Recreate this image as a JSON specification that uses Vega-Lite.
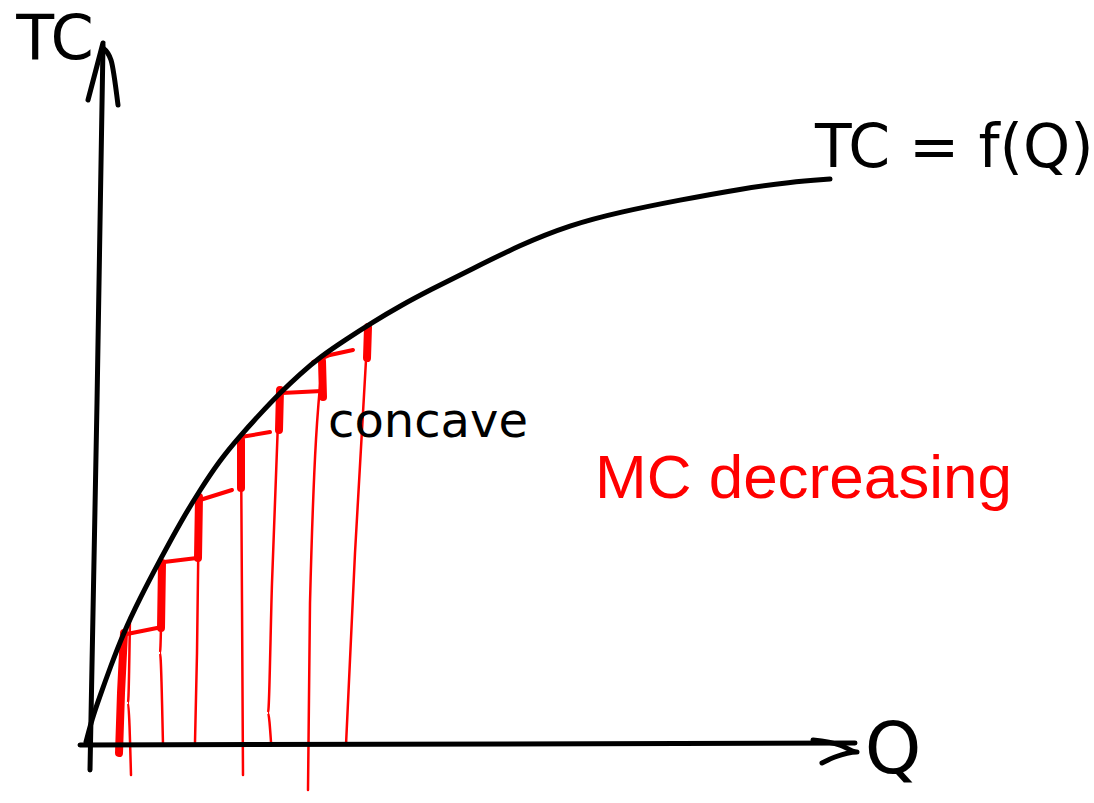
{
  "$schema": "https://vega.github.io/schema/vega-lite/v6.json",
  "width": 1094,
  "height": 803,
  "autosize": {"type": "fit", "contains": "padding"},
  "padding": 0,
  "background": "white",
  "config": {"view": {"stroke": null}},
  "datasets": {
    "strokes": [
      {"kind": "axis", "id": "yshaft", "o": 1, "q": 90, "tc": 33},
      {"kind": "axis", "id": "yshaft", "o": 2, "q": 97, "tc": 400},
      {"kind": "axis", "id": "yshaft", "o": 3, "q": 103, "tc": 758},
      {"kind": "axis", "id": "yleft", "o": 1, "q": 88, "tc": 703},
      {"kind": "axis", "id": "yleft", "o": 2, "q": 103, "tc": 760},
      {"kind": "axis", "id": "yright", "o": 1, "q": 103, "tc": 755},
      {"kind": "axis", "id": "yright", "o": 2, "q": 111, "tc": 743},
      {"kind": "axis", "id": "yright", "o": 3, "q": 118, "tc": 698},
      {"kind": "axis", "id": "xshaft", "o": 1, "q": 80, "tc": 58},
      {"kind": "axis", "id": "xshaft", "o": 2, "q": 855, "tc": 60},
      {"kind": "axis", "id": "xhead", "o": 1, "q": 813, "tc": 63},
      {"kind": "axis", "id": "xhead", "o": 2, "q": 840, "tc": 58},
      {"kind": "axis", "id": "xhead", "o": 3, "q": 857, "tc": 51},
      {"kind": "axis", "id": "xhead", "o": 4, "q": 835, "tc": 46},
      {"kind": "axis", "id": "xhead", "o": 5, "q": 822, "tc": 40},

      {"kind": "curve", "id": "tc", "o": 1, "q": 86, "tc": 61},
      {"kind": "curve", "id": "tc", "o": 2, "q": 92, "tc": 84},
      {"kind": "curve", "id": "tc", "o": 3, "q": 100, "tc": 107},
      {"kind": "curve", "id": "tc", "o": 4, "q": 110, "tc": 135},
      {"kind": "curve", "id": "tc", "o": 5, "q": 123, "tc": 169},
      {"kind": "curve", "id": "tc", "o": 6, "q": 140, "tc": 205},
      {"kind": "curve", "id": "tc", "o": 7, "q": 160, "tc": 243},
      {"kind": "curve", "id": "tc", "o": 8, "q": 180, "tc": 280},
      {"kind": "curve", "id": "tc", "o": 9, "q": 200, "tc": 313},
      {"kind": "curve", "id": "tc", "o": 10, "q": 220, "tc": 343},
      {"kind": "curve", "id": "tc", "o": 11, "q": 240, "tc": 367},
      {"kind": "curve", "id": "tc", "o": 12, "q": 260, "tc": 389},
      {"kind": "curve", "id": "tc", "o": 13, "q": 280, "tc": 410},
      {"kind": "curve", "id": "tc", "o": 14, "q": 300, "tc": 429},
      {"kind": "curve", "id": "tc", "o": 15, "q": 320, "tc": 446},
      {"kind": "curve", "id": "tc", "o": 16, "q": 345, "tc": 463},
      {"kind": "curve", "id": "tc", "o": 17, "q": 373, "tc": 481},
      {"kind": "curve", "id": "tc", "o": 18, "q": 400, "tc": 497},
      {"kind": "curve", "id": "tc", "o": 19, "q": 430, "tc": 513},
      {"kind": "curve", "id": "tc", "o": 20, "q": 470, "tc": 533},
      {"kind": "curve", "id": "tc", "o": 21, "q": 520, "tc": 558},
      {"kind": "curve", "id": "tc", "o": 22, "q": 570, "tc": 578},
      {"kind": "curve", "id": "tc", "o": 23, "q": 620, "tc": 591},
      {"kind": "curve", "id": "tc", "o": 24, "q": 680, "tc": 603},
      {"kind": "curve", "id": "tc", "o": 25, "q": 740, "tc": 614},
      {"kind": "curve", "id": "tc", "o": 26, "q": 790, "tc": 621},
      {"kind": "curve", "id": "tc", "o": 27, "q": 830, "tc": 624},

      {"kind": "thin", "id": "v1b", "o": 1, "q": 131, "tc": 28},
      {"kind": "thin", "id": "v1b", "o": 2, "q": 128, "tc": 100},
      {"kind": "thin", "id": "v1b", "o": 3, "q": 130, "tc": 186},
      {"kind": "thin", "id": "v2", "o": 1, "q": 163, "tc": 58},
      {"kind": "thin", "id": "v2", "o": 2, "q": 160, "tc": 150},
      {"kind": "thin", "id": "v2", "o": 3, "q": 162, "tc": 236},
      {"kind": "thin", "id": "v3", "o": 1, "q": 195, "tc": 61},
      {"kind": "thin", "id": "v3", "o": 2, "q": 197, "tc": 150},
      {"kind": "thin", "id": "v3", "o": 3, "q": 199, "tc": 305},
      {"kind": "thin", "id": "v4", "o": 1, "q": 243, "tc": 28},
      {"kind": "thin", "id": "v4", "o": 2, "q": 242, "tc": 200},
      {"kind": "thin", "id": "v4", "o": 3, "q": 241, "tc": 363},
      {"kind": "thin", "id": "v5", "o": 1, "q": 271, "tc": 61},
      {"kind": "thin", "id": "v5", "o": 2, "q": 268, "tc": 90},
      {"kind": "thin", "id": "v5", "o": 3, "q": 272, "tc": 220},
      {"kind": "thin", "id": "v5", "o": 4, "q": 279, "tc": 408},
      {"kind": "thin", "id": "v6", "o": 1, "q": 308, "tc": 13},
      {"kind": "thin", "id": "v6", "o": 2, "q": 310, "tc": 200},
      {"kind": "thin", "id": "v6", "o": 3, "q": 322, "tc": 438},
      {"kind": "thin", "id": "v7", "o": 1, "q": 346, "tc": 58},
      {"kind": "thin", "id": "v7", "o": 2, "q": 355, "tc": 250},
      {"kind": "thin", "id": "v7", "o": 3, "q": 368, "tc": 478},

      {"kind": "thick", "id": "t1", "o": 1, "q": 119, "tc": 50},
      {"kind": "thick", "id": "t1", "o": 2, "q": 121, "tc": 110},
      {"kind": "thick", "id": "t1", "o": 3, "q": 124, "tc": 170},
      {"kind": "thick", "id": "t2", "o": 1, "q": 161, "tc": 175},
      {"kind": "thick", "id": "t2", "o": 2, "q": 162, "tc": 240},
      {"kind": "thick", "id": "t3", "o": 1, "q": 198, "tc": 245},
      {"kind": "thick", "id": "t3", "o": 2, "q": 199, "tc": 306},
      {"kind": "thick", "id": "t4", "o": 1, "q": 241, "tc": 315},
      {"kind": "thick", "id": "t4", "o": 2, "q": 241, "tc": 363},
      {"kind": "thick", "id": "t5", "o": 1, "q": 279, "tc": 373},
      {"kind": "thick", "id": "t5", "o": 2, "q": 280, "tc": 413},
      {"kind": "thick", "id": "t6", "o": 1, "q": 323, "tc": 406},
      {"kind": "thick", "id": "t6", "o": 2, "q": 322, "tc": 442},
      {"kind": "thick", "id": "t7", "o": 1, "q": 367, "tc": 445},
      {"kind": "thick", "id": "t7", "o": 2, "q": 368, "tc": 476},

      {"kind": "step", "id": "h1", "o": 1, "q": 127, "tc": 169},
      {"kind": "step", "id": "h1", "o": 2, "q": 162, "tc": 176},
      {"kind": "step", "id": "h2", "o": 1, "q": 164, "tc": 241},
      {"kind": "step", "id": "h2", "o": 2, "q": 197, "tc": 245},
      {"kind": "step", "id": "h3", "o": 1, "q": 200, "tc": 303},
      {"kind": "step", "id": "h3", "o": 2, "q": 232, "tc": 313},
      {"kind": "step", "id": "h4", "o": 1, "q": 241, "tc": 366},
      {"kind": "step", "id": "h4", "o": 2, "q": 270, "tc": 371},
      {"kind": "step", "id": "h5", "o": 1, "q": 282, "tc": 410},
      {"kind": "step", "id": "h5", "o": 2, "q": 322, "tc": 412},
      {"kind": "step", "id": "h6", "o": 1, "q": 313, "tc": 441},
      {"kind": "step", "id": "h6", "o": 2, "q": 330, "tc": 448},
      {"kind": "step", "id": "h6", "o": 3, "q": 353, "tc": 453}
    ],
    "labels": [
      {"kind": "ylab", "q": 55, "tc": 763, "label": "TC"},
      {"kind": "xlab", "q": 893, "tc": 52, "label": "Q"},
      {"kind": "func", "q": 815, "tc": 636, "label": "TC = f(Q)"},
      {"kind": "concave", "q": 328, "tc": 366, "label": "concave"},
      {"kind": "mc", "q": 595, "tc": 305, "label": "MC decreasing"}
    ]
  },
  "encoding": {
    "x": {"field": "q", "type": "quantitative", "scale": {"domain": [0, 1094], "nice": false, "zero": false}, "axis": null},
    "y": {"field": "tc", "type": "quantitative", "scale": {"domain": [0, 803], "nice": false, "zero": false}, "axis": null}
  },
  "layer": [
    {
      "data": {"name": "strokes"},
      "transform": [{"filter": "datum.kind === 'thin'"}],
      "mark": {"type": "line", "color": "#ff0000", "strokeWidth": 2.5, "interpolate": "monotone", "strokeCap": "round"},
      "encoding": {"detail": {"field": "id"}, "order": {"field": "o", "type": "quantitative"}}
    },
    {
      "data": {"name": "strokes"},
      "transform": [{"filter": "datum.kind === 'thick'"}],
      "mark": {"type": "line", "color": "#ff0000", "strokeWidth": 8, "strokeCap": "round"},
      "encoding": {"detail": {"field": "id"}, "order": {"field": "o", "type": "quantitative"}}
    },
    {
      "data": {"name": "strokes"},
      "transform": [{"filter": "datum.kind === 'step'"}],
      "mark": {"type": "line", "color": "#ff0000", "strokeWidth": 4, "strokeCap": "round"},
      "encoding": {"detail": {"field": "id"}, "order": {"field": "o", "type": "quantitative"}}
    },
    {
      "data": {"name": "strokes"},
      "transform": [{"filter": "datum.kind === 'axis'"}],
      "mark": {"type": "line", "color": "#000000", "strokeWidth": 5, "strokeCap": "round", "strokeJoin": "round", "interpolate": "monotone"},
      "encoding": {"detail": {"field": "id"}, "order": {"field": "o", "type": "quantitative"}}
    },
    {
      "data": {"name": "strokes"},
      "transform": [{"filter": "datum.kind === 'curve'"}],
      "mark": {"type": "line", "color": "#000000", "strokeWidth": 5, "strokeCap": "round", "interpolate": "basis"},
      "encoding": {"detail": {"field": "id"}, "order": {"field": "o", "type": "quantitative"}}
    },
    {
      "data": {"name": "labels"},
      "transform": [{"filter": "datum.kind === 'ylab'"}],
      "mark": {"type": "text", "fontSize": 62, "font": "DejaVu Sans", "align": "center", "baseline": "middle", "color": "#000000"},
      "encoding": {"text": {"field": "label"}}
    },
    {
      "data": {"name": "labels"},
      "transform": [{"filter": "datum.kind === 'xlab'"}],
      "mark": {"type": "text", "fontSize": 72, "font": "DejaVu Sans", "align": "center", "baseline": "middle", "color": "#000000"},
      "encoding": {"text": {"field": "label"}}
    },
    {
      "data": {"name": "labels"},
      "transform": [{"filter": "datum.kind === 'func'"}],
      "mark": {"type": "text", "fontSize": 60, "font": "DejaVu Sans", "align": "left", "baseline": "alphabetic", "color": "#000000"},
      "encoding": {"text": {"field": "label"}}
    },
    {
      "data": {"name": "labels"},
      "transform": [{"filter": "datum.kind === 'concave'"}],
      "mark": {"type": "text", "fontSize": 48, "font": "DejaVu Sans", "align": "left", "baseline": "alphabetic", "color": "#000000"},
      "encoding": {"text": {"field": "label"}}
    },
    {
      "data": {"name": "labels"},
      "transform": [{"filter": "datum.kind === 'mc'"}],
      "mark": {"type": "text", "fontSize": 62, "font": "Liberation Sans", "align": "left", "baseline": "alphabetic", "color": "#ff0000"},
      "encoding": {"text": {"field": "label"}}
    }
  ]
}
